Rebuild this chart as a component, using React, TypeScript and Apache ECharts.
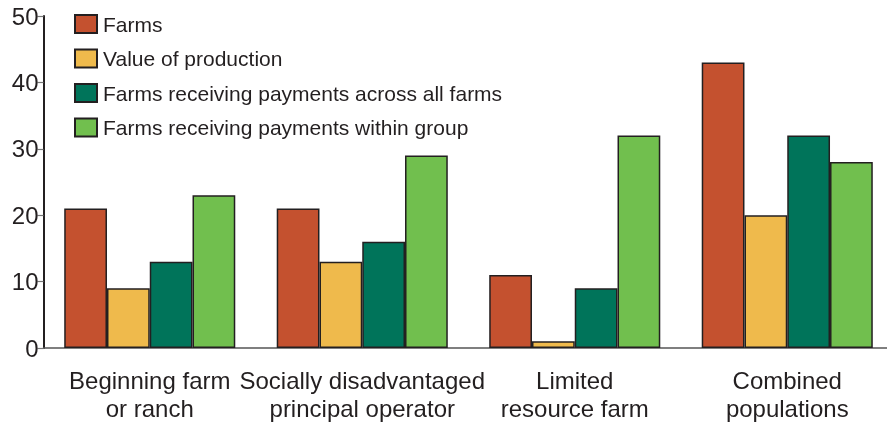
import React, { useEffect, useRef } from "react";
import * as echarts from "echarts";

const categories = [
  "Beginning farm\nor ranch",
  "Socially disadvantaged\nprincipal operator",
  "Limited\nresource farm",
  "Combined\npopulations",
];
const farms = [21, 21, 11, 43];
const valueOfProduction = [9, 13, 1, 20];
const paymentsAcrossAll = [13, 16, 9, 32];
const paymentsWithinGroup = [23, 29, 32, 28];
const yTicks = [0, 10, 20, 30, 40, 50];

const seriesNames = [
  "Farms",
  "Value of production",
  "Farms receiving payments across all farms",
  "Farms receiving payments within group",
];
const seriesColors = ["#C4512F", "#EFBA4C", "#00745A", "#71BF4E"];

export default function App() {
  const ref = useRef<HTMLDivElement>(null);
  useEffect(() => {
    if (!ref.current) return;
    const chart = echarts.init(ref.current, undefined, { renderer: "svg" });
    const data = [farms, valueOfProduction, paymentsAcrossAll, paymentsWithinGroup];
    chart.setOption({
      animation: false,
      textStyle: { fontFamily: "Liberation Sans, Arial, sans-serif" },
      legend: {
        orient: "vertical",
        left: 74,
        top: 13.5,
        padding: 0,
        itemWidth: 22,
        itemHeight: 18,
        itemGap: 13.5,
        icon: "rect",
        textStyle: { fontSize: 21, color: "#231F20", lineHeight: 21, padding: [0, 0, 0, 1] },
        data: seriesNames,
      },
      grid: { left: 43.5, top: 16, width: 850, height: 334.5, containLabel: false },
      xAxis: {
        type: "category",
        data: categories,
        boundaryGap: true,
        axisLine: { lineStyle: { color: "#555", width: 1.5 } },
        axisTick: { alignWithLabel: true, length: 7, lineStyle: { color: "#555", width: 1.2 } },
        axisLabel: {
          fontSize: 24,
          lineHeight: 28,
          color: "#231F20",
          margin: 18,
          interval: 0,
        },
      },
      yAxis: {
        type: "value",
        min: yTicks[0],
        max: yTicks[yTicks.length - 1],
        interval: 10,
        splitLine: { show: false },
        axisLine: { show: true, lineStyle: { color: "#231F20", width: 2 } },
        axisTick: { show: true, inside: false, length: 6, lineStyle: { color: "#777", width: 1.2 } },
        axisLabel: { fontSize: 24, color: "#231F20", margin: 5 },
      },
      series: seriesNames.map((name, i) => ({
        name,
        type: "bar",
        data: data[i],
        barGap: "0%",
        barCategoryGap: "19.5%",
        itemStyle: { color: seriesColors[i], borderColor: "#231F20", borderWidth: 1.5 },
      })),
    });
    return () => chart.dispose();
  }, []);
  return (
    <div style={{ position: "fixed", left: 0, top: 0, width: 887, height: 422, overflow: "hidden" }}>
      <div ref={ref} style={{ width: 900, height: 422 }} />
    </div>
  );
}
